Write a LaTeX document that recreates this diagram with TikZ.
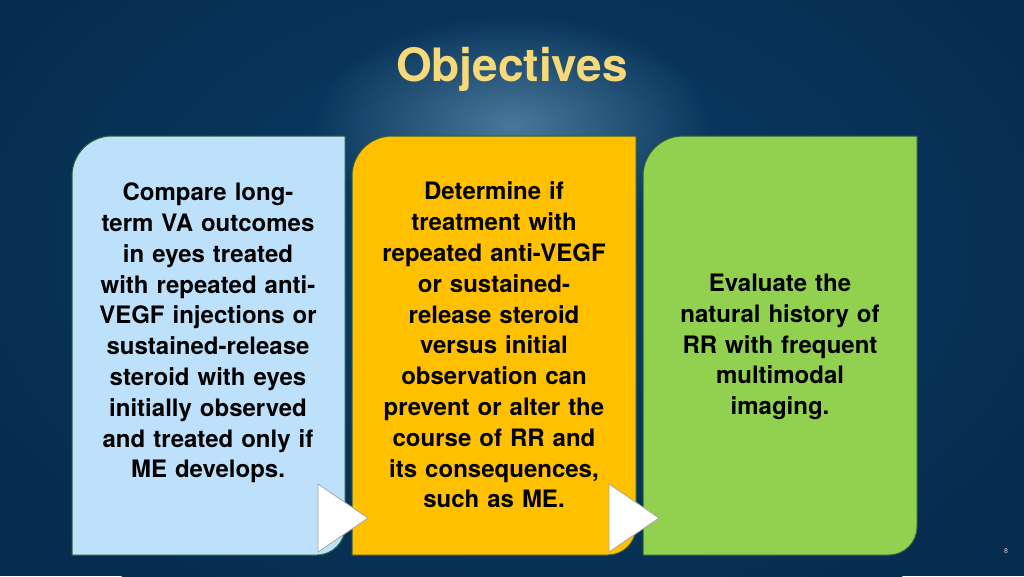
\documentclass[tikz,border=0pt]{standalone}
\usepackage{fontspec}
\setmainfont{TeX Gyre Heros}
\usetikzlibrary{fadings}
\tikzfading[name=glowfade, inner color=transparent!0, outer color=transparent!100]
\definecolor{bgout}{HTML}{062C4F}
\definecolor{bgmid}{HTML}{0A3D66}
\definecolor{bgin}{HTML}{5A88AA}
\definecolor{cblue}{HTML}{BDE1FA}
\definecolor{cyellow}{HTML}{FFC000}
\definecolor{cgreen}{HTML}{92D050}
\definecolor{cedge}{HTML}{2F5F3A}
\definecolor{ctitle}{HTML}{F7D97A}
\tikzset{
  boxtext/.style={align=center,text width=250pt,font=\fontsize{24}{30.8}\selectfont\bfseries,text=black},
  tri/.style={fill=white,draw=gray!70,line width=0.8pt},
  card/.style={draw=cedge,line width=1pt}
}
\begin{document}
\begin{tikzpicture}[x=1pt,y=-1pt]
\useasboundingbox (0,0) rectangle (1024,576);
\begin{scope}
\clip (0,0) rectangle (1024,576);
\fill[bgout] (0,0) rectangle (1024,576);
\shade[inner color=bgmid,outer color=bgout] (512,250) ellipse (620 and 420);
\fill[bgin,path fading=glowfade,opacity=0.8] (512,125) ellipse (200 and 110);
\end{scope}
\node[font=\fontsize{46}{50}\selectfont\bfseries,text=ctitle] (title) at (512,69) {Objectives};
% cards
\foreach \xa/\xb/\c/\n in {72/345/cblue/c1,352/636/cyellow/c2,643/917/cgreen/c3}{
  \filldraw[card,fill=\c] (\xa,340) [rounded corners=40pt] -- (\xa,136) [sharp corners] -- (\xb,136) -- (\xb,340) [rounded corners=28pt] -- (\xb,555) [sharp corners] -- (\xa,555) -- cycle;
}
\node[boxtext] (t1) at (208,333) {Compare long-\\term VA outcomes\\in eyes treated\\with repeated anti-\\VEGF injections or\\sustained-release\\steroid with eyes\\initially observed\\and treated only if\\ME develops.};
\node[boxtext] (t2) at (494,345) {Determine if\\treatment with\\repeated anti-VEGF\\or sustained-\\release steroid\\versus initial\\observation can\\prevent or alter the\\course of RR and\\its consequences,\\such as ME.};
\node[boxtext] (t3) at (780,347) {Evaluate the\\natural history of\\RR with frequent\\multimodal\\imaging.};
\draw[tri] (318,484) -- (368,518) -- (318,552) -- cycle;
\draw[tri] (609,484) -- (659,518) -- (609,552) -- cycle;
\node[text=white!85!black,font=\fontsize{7}{8}\selectfont] (pg) at (1006,551) {8};
\end{tikzpicture}
\end{document}
